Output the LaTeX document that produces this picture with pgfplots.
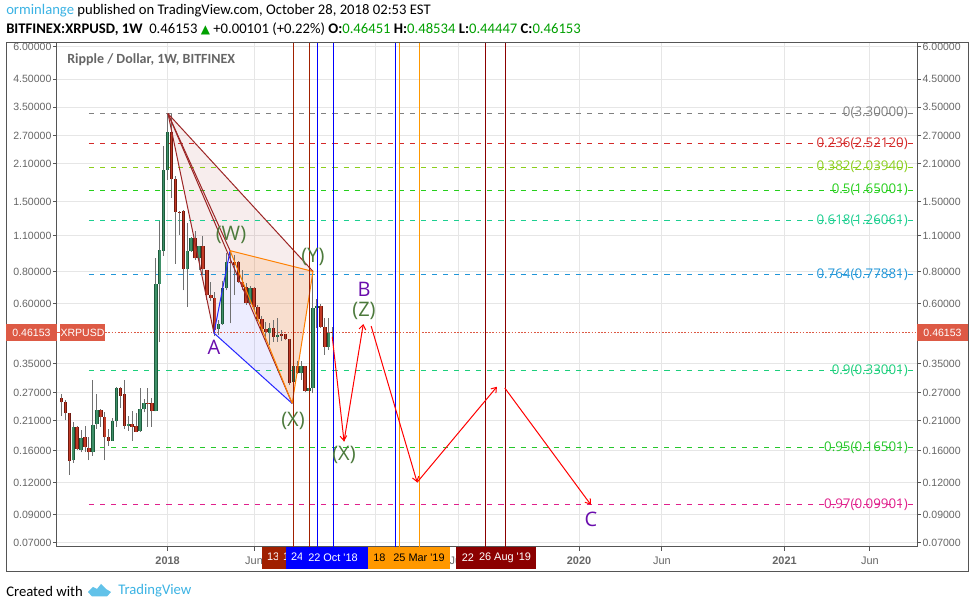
\documentclass[border=0pt]{standalone}
\usepackage{fontspec}
\setmainfont{Carlito}
\newfontfamily\opfont{Open Sans}
\newfontfamily\lsfont{Liberation Sans}
\newfontfamily\dvfont{DejaVu Sans}
\usepackage{pgfplots}
\usepackage{pgfplotstable}
\pgfplotsset{compat=1.18}
\usetikzlibrary{arrows.meta}
\definecolor{cframe}{HTML}{555555}
\definecolor{ctick}{HTML}{666666}
\definecolor{gridc}{HTML}{E6E6E6}
\definecolor{tvblue}{HTML}{3BB3E4}
\definecolor{upc}{HTML}{3E9068}
\definecolor{updark}{HTML}{1E5A3C}
\definecolor{dnc}{HTML}{C23A26}
\definecolor{dndark}{HTML}{6E1A10}
\definecolor{wickc}{HTML}{707070}
\definecolor{lastc}{HTML}{DD5A45}
\definecolor{green2}{HTML}{00A000}
\definecolor{labg}{HTML}{4C7A3C}
\definecolor{labp}{HTML}{6A0DAD}
\definecolor{fa}{HTML}{808080}
\definecolor{fb}{HTML}{D42A2A}
\definecolor{fc}{HTML}{8BCF1C}
\definecolor{fd}{HTML}{26CF1C}
\definecolor{fe}{HTML}{1CCF90}
\definecolor{ff}{HTML}{2196D8}
\definecolor{fg}{HTML}{1CCF7C}
\definecolor{fh}{HTML}{26C72B}
\definecolor{fi}{HTML}{E0208C}
\definecolor{vred}{HTML}{A02000}
\definecolor{vdred}{HTML}{8B0000}
\definecolor{vorange}{HTML}{FF9800}
\pgfplotstableread{
w wl bl bh wh
-24 .1435 .147 .1975 .2075
-22 .1577 .161 .179 .1927
-19 .153 .1575 .201 .302
-18 .1945 .2025 .2306 .2667
-14 .175 .175 .209 .2145
-13 .1985 .208 .281 .2835
-10 .1915 .2005 .203 .2176
-7 .1895 .1905 .232 .281
-6 .2255 .232 .2445 .255
-3 .2275 .2275 .715 .903
-2 .424 .715 .968 1.26
-1 .921 .964 1.987 2.467
0 1.82 1.98 2.79 3.30
5 .582 .817 .96 1.235
6 .955 .957 1.08 1.085
8 .81 .90 1.005 1.005
13 .452 .479 .497 .518
14 .495 .497 .692 .732
15 .675 .692 .872 .94
21 .598 .605 .688 .702
26 .414 .461 .48 .502
28 .425 .445 .452 .526
32 .276 .296 .342 .343
34 .302 .32 .342 .357
36 .252 .274 .281 .289
37 .268 .281 .577 .787
38 .48 .577 .587 .624
41 .396 .407 .461 .526
}\upT
\pgfplotstableread{
w wl bl bh wh
-27 .218 .247 .256 .2667
-26 .210 .224 .247 .252
-25 .129 .146 .224 .225
-23 .1606 .163 .198 .200
-21 .158 .1655 .1805 .200
-20 .147 .1575 .1645 .1815
-17 .1985 .2165 .2306 .2335
-16 .147 .1805 .2165 .2255
-15 .167 .175 .1805 .194
-12 .2345 .262 .281 .2835
-11 .1945 .2005 .2655 .302
-9 .175 .1985 .203 .229
-8 .1885 .19 .199 .224
-5 .1985 .2435 .2445 .2815
-4 .1985 .2275 .2445 .256
1 1.55 1.83 2.79 3.30
2 .856 1.361 1.83 1.885
3 1.11 1.355 1.37 1.38
4 .675 .817 1.375 1.39
7 .887 .90 1.08 1.145
9 .775 .817 1.005 1.095
10 .62 .65 .81 .81
11 .615 .631 .65 .726
12 .448 .473 .631 .665
16 .502 .862 .872 .964
17 .647 .848 .872 .93
18 .722 .729 .872 .875
19 .675 .698 .729 .81
20 .593 .605 .698 .722
22 .566 .58 .688 .696
23 .513 .524 .58 .593
24 .462 .476 .524 .537
25 .432 .464 .476 .51
27 .425 .445 .48 .518
29 .428 .448 .455 .473
30 .432 .435 .455 .457
31 .289 .293 .435 .437
33 .319 .32 .342 .357
35 .27 .274 .342 .343
39 .482 .485 .587 .598
40 .379 .407 .485 .526
42 .44447 .46153 .46451 .48534
}\dnT
\newcommand\buildsegs[4]{%
  \gdef#4{}%
  \pgfplotstablegetrowsof{#1}\pgfmathtruncatemacro\lastrow{\pgfplotsretval-1}%
  \foreach \i in {0,...,\lastrow}{%
    \pgfplotstablegetelem{\i}{w}\of{#1}\let\cw\pgfplotsretval
    \pgfplotstablegetelem{\i}{#2}\of{#1}\let\ca\pgfplotsretval
    \pgfplotstablegetelem{\i}{#3}\of{#1}\let\cb\pgfplotsretval
    \xdef#4{#4(\cw,\ca)(\cw,\cb)(\cw,nan)}%
  }}
\newcommand\segsi[2]{\addplot[forget plot,no markers,unbounded coords=jump,#2] coordinates {#1};}
\newcommand\segs[2]{\expandafter\segsi\expandafter{#2}{#1}}
\begin{document}
\buildsegs{\upT}{wl}{wh}{\upW}\buildsegs{\upT}{bl}{bh}{\upB}\buildsegs{\dnT}{wl}{wh}{\dnW}\buildsegs{\dnT}{bl}{bh}{\dnB}%
\begin{tikzpicture}
\fill[white] (0,0) rectangle (730.5pt,456.75pt);
\begin{axis}[at={(42.75pt,46.5pt)},anchor=south west,
  scale only axis,width=645pt,height=378pt,ymode=log,
  xmin=-28.14,xmax=190.7,ymin=0.0674,ymax=6.22,
  ytick={6,4.5,3.5,2.7,2.1,1.5,1.1,.8,.6,.35,.27,.21,.16,.12,.09,.07},
  yticklabels={6.00000,4.50000,3.50000,2.70000,2.10000,1.50000,1.10000,0.80000,0.60000,0.35000,0.27000,0.21000,0.16000,0.12000,0.09000,0.07000},
  yminorticks=false,tick align=outside,major tick length=3pt,
  tick style={cframe,line width=.75pt},axis line style={cframe,line width=.75pt},
  y tick label style={font=\lsfont\fontsize{7.9pt}{9pt}\selectfont,text=ctick,inner sep=1pt},
  ytick pos=left,xtick pos=bottom,
  xtick={0,22,53,74,104.7,125.8,157,178.7},
  xticklabels={\textbf{2018},Jun,\textbf{2019},Jun,\textbf{2020},Jun,\textbf{2021},Jun},
  x tick label style={font=\lsfont\fontsize{8.2pt}{9pt}\selectfont,text=ctick,yshift=-1pt},
  grid=major,grid style={gridc,line width=.75pt},
]
% harmonic pattern fills
\addplot[forget plot,fill=red!60!black,fill opacity=.07,draw=none] coordinates {(0.1,3.3)(11.8,.46)(15.9,.964)(31.7,.2445)(37,.8)(0.1,3.3)};
\addplot[forget plot,fill=orange,fill opacity=.13,draw=none] coordinates {(15.9,.964)(31.7,.2445)(37,.8)};
\addplot[forget plot,fill=blue,fill opacity=.07,draw=none] coordinates {(11.8,.46)(15.9,.964)(31.7,.2445)};
% fib levels
\addplot[forget plot,fa,line width=.75pt,dash pattern=on 3.8pt off 4.5pt] coordinates {(-20,3.3)(189.7,3.3)};
\addplot[forget plot,fb,line width=.75pt,dash pattern=on 3.8pt off 4.5pt] coordinates {(-20,2.5212)(189.7,2.5212)};
\addplot[forget plot,fc,line width=.75pt,dash pattern=on 3.8pt off 4.5pt] coordinates {(-20,2.0394)(189.7,2.0394)};
\addplot[forget plot,fd,line width=.75pt,dash pattern=on 3.8pt off 4.5pt] coordinates {(-20,1.65001)(189.7,1.65001)};
\addplot[forget plot,fe,line width=.75pt,dash pattern=on 3.8pt off 4.5pt] coordinates {(-20,1.26061)(189.7,1.26061)};
\addplot[forget plot,ff,line width=.75pt,dash pattern=on 3.8pt off 4.5pt] coordinates {(-20,.77881)(189.7,.77881)};
\addplot[forget plot,fg,line width=.75pt,dash pattern=on 3.8pt off 4.5pt] coordinates {(-20,.33001)(189.7,.33001)};
\addplot[forget plot,fh,line width=.75pt,dash pattern=on 3.8pt off 4.5pt] coordinates {(-17.2,.16501)(189.7,.16501)};
\addplot[forget plot,fi,line width=.75pt,dash pattern=on 3.8pt off 4.5pt] coordinates {(-20,.09901)(189.7,.09901)};
% last price
\addplot[forget plot,lastc,line width=.75pt,dash pattern=on 1.2pt off 1.2pt] coordinates {(-15.9,.46153)(190.7,.46153)};
% wicks
\segs{wickc,line width=.75pt}{\upW}
\segs{wickc,line width=.75pt}{\dnW}
% bodies
\segs{updark,line width=2.6pt}{\upB}
\segs{upc,line width=1.2pt}{\upB}
\segs{dndark,line width=2.6pt}{\dnB}
\segs{dnc,line width=1.2pt}{\dnB}
% pattern lines
\addplot[forget plot,vdred!85,line width=.75pt] coordinates {(0.1,3.3)(11.8,.46)};
\addplot[forget plot,vdred!85,line width=.75pt] coordinates {(0.1,3.3)(15.9,.964)};
\addplot[forget plot,vdred!85,line width=.75pt] coordinates {(0.1,3.3)(31.7,.2445)};
\addplot[forget plot,vdred!85,line width=.75pt] coordinates {(0.1,3.3)(37,.8)};
\addplot[forget plot,blue!85!white,line width=.75pt] coordinates {(31.7,.2445)(11.8,.46)(15.9,.964)};
\addplot[forget plot,orange,line width=.75pt] coordinates {(31.7,.2445)(37,.8)(15.9,.964)(31.7,.2445)};
% vertical lines
\addplot[forget plot,vred,line width=.75pt] coordinates {(32,.0674)(32,6.22)};
\addplot[forget plot,vred,line width=.75pt] coordinates {(36.05,.0674)(36.05,6.22)};
\addplot[forget plot,blue,line width=.75pt] coordinates {(38.1,.0674)(38.1,6.22)};
\addplot[forget plot,blue,line width=.75pt] coordinates {(42.16,.0674)(42.16,6.22)};
\addplot[forget plot,blue,line width=.75pt] coordinates {(57.9,.0674)(57.9,6.22)};
\addplot[forget plot,vorange,line width=.75pt] coordinates {(58.96,.0674)(58.96,6.22)};
\addplot[forget plot,vorange,line width=.75pt] coordinates {(64.05,.0674)(64.05,6.22)};
\addplot[forget plot,vdred,line width=.75pt] coordinates {(80.8,.0674)(80.8,6.22)};
\addplot[forget plot,vdred,line width=.75pt] coordinates {(85.9,.0674)(85.9,6.22)};
% projected path
\addplot[forget plot,red,line width=.75pt,-{Straight Barb[length=3.5pt,width=5pt]}] coordinates {(41.9,.445)(44.9,.174)};
\addplot[forget plot,red,line width=.75pt,-{Straight Barb[length=3.5pt,width=5pt]}] coordinates {(44.9,.174)(49.8,.499)};
\addplot[forget plot,red,line width=.75pt,-{Straight Barb[length=3.5pt,width=5pt]}] coordinates {(51.8,.49)(63.5,.1205)};
\addplot[forget plot,red,line width=.75pt,-{Straight Barb[length=3.5pt,width=5pt]}] coordinates {(63.5,.1205)(83.8,.284)};
\addplot[forget plot,red,line width=.75pt,-{Straight Barb[length=3.5pt,width=5pt]}] coordinates {(85.8,.281)(107.7,.0985)};
\end{axis}
\begin{axis}[at={(42.75pt,46.5pt)},anchor=south west,
  scale only axis,width=645pt,height=378pt,ymode=log,
  xmin=-28.14,xmax=190.7,ymin=0.0674,ymax=6.22,
  ytick={6,4.5,3.5,2.7,2.1,1.5,1.1,.8,.6,.35,.27,.21,.16,.12,.09,.07},
  yticklabels={6.00000,4.50000,3.50000,2.70000,2.10000,1.50000,1.10000,0.80000,0.60000,0.35000,0.27000,0.21000,0.16000,0.12000,0.09000,0.07000},
  yminorticks=false,tick align=outside,major tick length=3pt,
  tick style={cframe,line width=.75pt},axis line style={cframe,line width=.75pt},
  y tick label style={font=\lsfont\fontsize{7.9pt}{9pt}\selectfont,text=ctick,inner sep=1pt},
  hide x axis,axis y line*=right,
]
\addplot[forget plot,draw=none] coordinates {(0,1)};
\end{axis}
\begin{scope}[x=.75pt,y=-.75pt,yshift=456.75pt]
% frame
\draw[cframe,line width=.75pt] (6,43) rectangle (968,572);
% fib text
\begin{scope}[every node/.style={anchor=east,inner sep=0,font=\opfont\fontsize{10pt}{12pt}\selectfont}]
\node[text=fa] at (908,113) {0(3.30000)};
\node[text=fb] at (908,144) {0.236(2.52120)};
\node[text=fc] at (908,167) {0.382(2.03940)};
\node[text=fd] at (908,190) {0.5(1.65001)};
\node[text=fe] at (908,221) {0.618(1.26061)};
\node[text=ff] at (908,275) {0.764(0.77881)};
\node[text=fg] at (908,371) {0.9(0.33001)};
\node[text=fh] at (908,448) {0.95(0.16501)};
\node[text=fi] at (908,505) {0.97(0.09901)};
\end{scope}
% wave labels
\begin{scope}[every node/.style={inner sep=0,font=\opfont\fontsize{15pt}{17pt}\selectfont}]
\node[text=labg] at (231,235) {(W)};
\node[text=labg] at (313,257) {(Y)};
\node[text=labg] at (293,421) {(X)};
\node[text=labg] at (364,311) {(Z)};
\node[text=labg] at (344,455) {(X)};
\node[text=labp] at (364,289) {B};
\node[text=labp] at (214,347) {A};
\node[text=labp] at (591,519) {C};
\end{scope}
% price boxes
\fill[lastc] (6,324) rectangle (57,341);
\fill[lastc] (60,324) rectangle (105,341);
\fill[lastc] (917,324) rectangle (968,341);
\draw[lastc,line width=.75pt] (57,332.5) -- (60,332.5);
\begin{scope}[every node/.style={inner sep=0,text=white,font=\lsfont\fontsize{7.9pt}{9pt}\selectfont}]
\node at (31.5,332.5) {0.46153};
\node at (82.5,332.5) {XRPUSD};
\node at (942.5,332.5) {0.46153};
\end{scope}
% time labels
\newcommand\tlab[5]{\fill[#1] (#3,547.5) rectangle (#4,568.7); \node[inner sep=0,text=#2,font=\lsfont\fontsize{8.2pt}{9pt}\selectfont] at ({(#3+#4)/2},558) {#5};}
\tlab{vred}{white}{262}{324}{13 Aug '18}
\tlab{vred}{white}{278}{340}{10 Sep '18}
\tlab{blue}{white}{286}{348}{24 Sep '18}
\tlab{blue}{white}{302}{364}{22 Oct '18}
\tlab{blue}{white}{364}{426}{11 Feb '19}
\tlab{vorange}{black}{368}{430}{18 Feb '19}
\tlab{vorange}{black}{388}{450}{25 Mar '19}
\tlab{vdred}{white}{456}{514}{22 Jul '19}
\tlab{vdred}{white}{474}{536}{26 Aug '19}
% title and header
\node[anchor=west,inner sep=0,text=ctick,font=\bfseries\fontsize{10.5pt}{12pt}\selectfont] at (67,60) {Ripple / Dollar, 1W, BITFINEX};
\node[anchor=west,inner sep=0,font=\fontsize{11pt}{13pt}\selectfont] at (6,11) {\textcolor{tvblue}{orminlange} published on TradingView.com, October 28, 2018 02:53 EST};
\node[anchor=west,inner sep=0,font=\fontsize{11pt}{13pt}\selectfont] at (6,29.5) {\textbf{BITFINEX:XRPUSD, 1W}\ \ 0.46153 {\dvfont\fontsize{9pt}{11pt}\selectfont\textcolor{green2}{▲}} +0.00101 (+0.22\%) \textbf{O:}\textcolor{green2}{0.46451} \textbf{H:}\textcolor{green2}{0.48534} \textbf{L:}\textcolor{green2}{0.44447} \textbf{C:}\textcolor{green2}{0.46153}};
% footer
\node[anchor=west,inner sep=0,font=\fontsize{11pt}{13pt}\selectfont] at (6,591) {Created with};
\node[anchor=west,inner sep=0,text=tvblue,font=\fontsize{11pt}{13pt}\selectfont] at (118,591) {TradingView};
\fill[tvblue!80!white] (88,592) -- (93,587) -- (97,589) -- (101,584) -- (106,589) -- (111,592) -- (107,596.5) -- (92,596.5) -- cycle;
\end{scope}
\end{tikzpicture}
\end{document}
